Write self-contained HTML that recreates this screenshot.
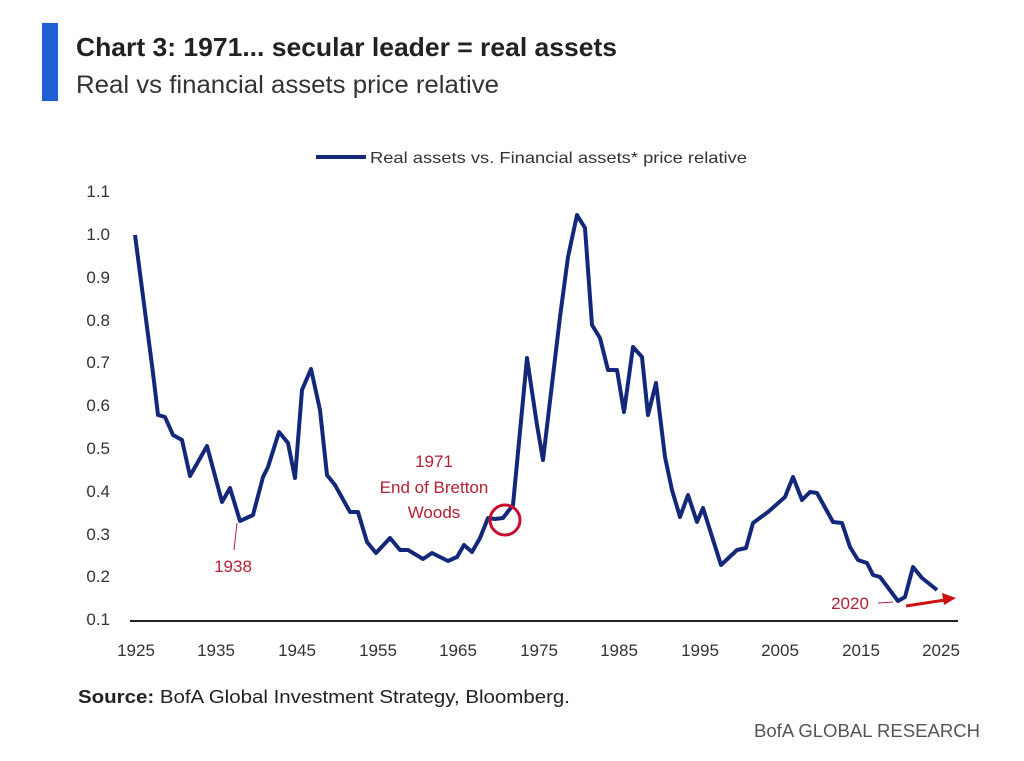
<!DOCTYPE html>
<html><head><meta charset="utf-8"><style>
html,body{margin:0;padding:0;background:#fff;}
svg{display:block;font-family:"Liberation Sans",sans-serif;}
</style></head><body>
<svg width="1024" height="761" viewBox="0 0 1024 761" xmlns="http://www.w3.org/2000/svg">
<rect width="1024" height="761" fill="#fff"/>
<rect x="42" y="23" width="16" height="78" fill="#1f5fd6"/>
<text x="76" y="56" font-size="26" font-weight="bold" fill="#222" textLength="541" lengthAdjust="spacingAndGlyphs">Chart 3: 1971... secular leader = real assets</text>
<text x="76" y="93" font-size="25" fill="#333" textLength="423" lengthAdjust="spacingAndGlyphs">Real vs financial assets price relative</text>
<line x1="316" y1="157" x2="366" y2="157" stroke="#14287a" stroke-width="4"/>
<text x="370" y="163" font-size="16" fill="#333" textLength="377" lengthAdjust="spacingAndGlyphs">Real assets vs. Financial assets* price relative</text>
<g font-size="17" fill="#333" text-anchor="end">
<text x="110" y="197">1.1</text><text x="110" y="240">1.0</text><text x="110" y="283">0.9</text>
<text x="110" y="326">0.8</text><text x="110" y="368">0.7</text><text x="110" y="411">0.6</text>
<text x="110" y="454">0.5</text><text x="110" y="497">0.4</text><text x="110" y="540">0.3</text>
<text x="110" y="582">0.2</text><text x="110" y="625">0.1</text>
</g>
<line x1="130" y1="621" x2="958" y2="621" stroke="#222" stroke-width="2"/>
<g font-size="17" fill="#333" text-anchor="middle">
<text x="136" y="656">1925</text><text x="216" y="656">1935</text><text x="297" y="656">1945</text>
<text x="378" y="656">1955</text><text x="458" y="656">1965</text><text x="539" y="656">1975</text>
<text x="619" y="656">1985</text><text x="700" y="656">1995</text><text x="780" y="656">2005</text>
<text x="861" y="656">2015</text><text x="941" y="656">2025</text>
</g>
<polyline fill="none" stroke="#14287a" stroke-width="4" stroke-linejoin="round" points="135,235 153,373 158,415 165,417 173,435 182,440 190,476 207,446 222,502 230,488 240,521 253,515 263,477 268,467 279,432 288,443 295,478 302,390 311,369 320,410 327,475 335,485 350,512 358,512 367,542 376,553 390,538 400,550 408,550 423,559 432,553 448,561 457,557 464,545 472,552 480,538 488,518 495,519 503,518 513,505 527,358 537,425 543,460 560,317 568,257 577,215 585,228 592,325 600,338 608,370 617,370 624,412 633,347 642,357 648,415 656,383 665,457 672,490 680,517 688,495 697,522 703,508 721,565 737,550 746,548 753,523 768,512 785,497 793,477 802,500 810,492 817,493 833,522 842,523 850,547 858,560 867,563 873,575 880,577 898,601 905,597 913,567 922,578 937,590"/>
<circle cx="505" cy="520" r="15" fill="none" stroke="#c8102e" stroke-width="3"/>
<g font-size="17" fill="#b22234" text-anchor="middle">
<text x="434" y="467">1971</text>
<text x="434" y="493">End of Bretton</text>
<text x="434" y="518">Woods</text>
<text x="233" y="572">1938</text>
<text x="850" y="609">2020</text>
</g>
<line x1="237" y1="523" x2="234" y2="550" stroke="#b22234" stroke-width="1"/>
<line x1="878" y1="603" x2="893" y2="602" stroke="#b22234" stroke-width="1"/>
<line x1="906" y1="606" x2="945" y2="600" stroke="#d01010" stroke-width="3"/>
<polygon points="956,598 942,593 944,605" fill="#d01010"/>
<text x="78" y="703" font-size="18" fill="#222" textLength="492" lengthAdjust="spacingAndGlyphs"><tspan font-weight="bold">Source:</tspan> BofA Global Investment Strategy, Bloomberg.</text>
<text x="980" y="737" font-size="18" fill="#555" text-anchor="end" textLength="226" lengthAdjust="spacingAndGlyphs">BofA GLOBAL RESEARCH</text>
</svg>
</body></html>
